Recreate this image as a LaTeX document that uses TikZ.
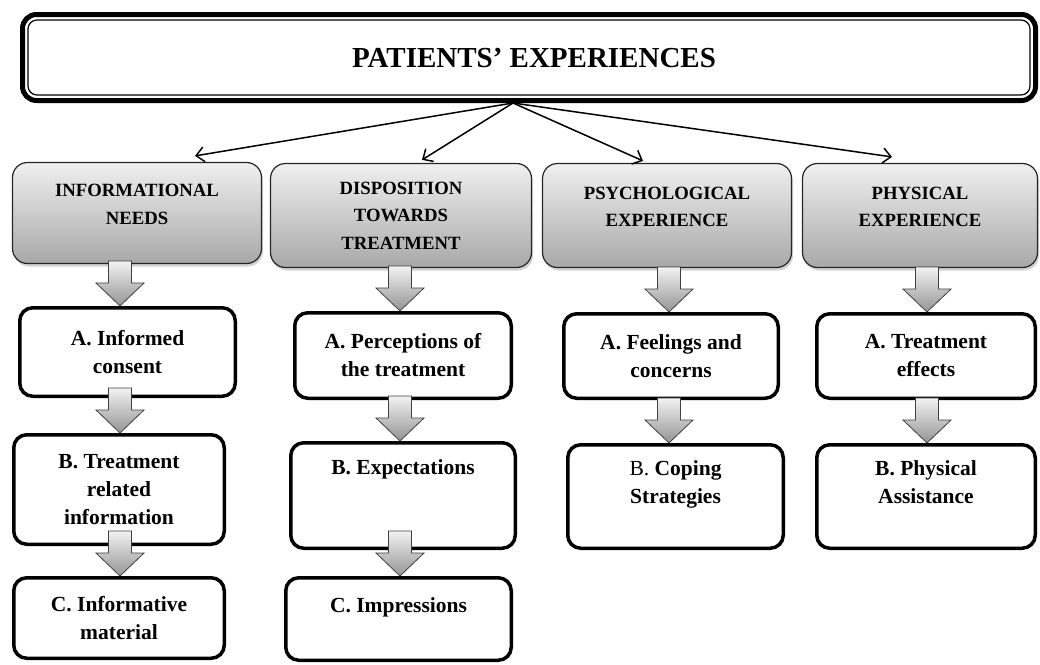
\documentclass[tikz,border=0pt]{standalone}
\usepackage{fontspec}
\setmainfont{Liberation Serif}
\usetikzlibrary{arrows.meta,calc,shadows}

\tikzset{
  catbox/.style={draw=black!85, line width=1.2pt, rounded corners=15pt,
    top color=black!6, bottom color=black!34,
    drop shadow={shadow xshift=1.5pt, shadow yshift=-3pt, opacity=0.35},
    align=center, font=\fontsize{18.7}{27.5}\selectfont\bfseries},
  subbox/.style={draw, line width=3.5pt, rounded corners=13pt, fill=white,
    align=center, font=\fontsize{21.5}{28}\selectfont\bfseries},
  thinarrow/.style={-{Straight Barb[length=8pt,width=15pt]}, line width=1.5pt},
  fatarrow/.style={draw=black!75, line width=0.8pt, top color=black!5, bottom color=black!42},
}

% block arrow ending on the top of a box: #1 = x, #2 = target node
\newcommand{\fatarrow}[2]{%
  \draw[fatarrow] let \p1=(#2.north) in
    (#1pt-11.5pt,\y1+45pt) -- (#1pt+11.5pt,\y1+45pt) -- (#1pt+11.5pt,\y1+23pt)
    -- (#1pt+24pt,\y1+23pt) -- (#1pt,\y1) -- (#1pt-24pt,\y1+23pt)
    -- (#1pt-11.5pt,\y1+23pt) -- cycle;}

\begin{document}
\begin{tikzpicture}[x=1pt,y=-1pt]
    \useasboundingbox (0,0) rectangle (1040,664);

    % heading
    \node[draw, line width=5pt, rounded corners=14pt, minimum width=1013pt, minimum height=86pt,
          font=\fontsize{29}{30}\selectfont\bfseries] (title) at (529,57.5) {\hspace*{10pt}PATIENTS' EXPERIENCES};
    \draw[line width=1.2pt, rounded corners=9pt] ([shift={(8,8)}]title.north west) rectangle ([shift={(-8,-8)}]title.south east);

    % themes
    \node[catbox, minimum width=249pt, minimum height=101pt] (cat1) at (137,213) {INFORMATIONAL\\NEEDS\\[-10pt]\mbox{}};
    \node[catbox, minimum width=261pt, minimum height=104pt] (cat2) at (401,215.5) {DISPOSITION\\TOWARDS\\TREATMENT};
    \node[catbox, minimum width=249pt, minimum height=104pt] (cat3) at (667,215.5) {PSYCHOLOGICAL\\EXPERIENCE\\[-10pt]\mbox{}};
    \node[catbox, minimum width=235pt, minimum height=104pt] (cat4) at (920,215.5) {PHYSICAL\\EXPERIENCE\\[-10pt]\mbox{}};

    % sub-themes
    \node[subbox, minimum width=215.5pt, minimum height=88.5pt] (a1) at (127.5,352) {A. Informed\\consent};
    \node[subbox, minimum width=210.5pt, minimum height=109.5pt] (b1) at (119,489.5) {B. Treatment\\related\\information};
    \node[subbox, minimum width=210.5pt, minimum height=80.5pt] (c1) at (119,618) {C. Informative\\material};

    \node[subbox, minimum width=216.5pt, minimum height=85.5pt] (a2) at (403,355.5) {A. Perceptions of\\the treatment};
    \node[subbox, minimum width=224.5pt, minimum height=105.5pt] (b2) at (403,495.5) {B. Expectations\\\mbox{}\\\mbox{}};
    \node[subbox, minimum width=225.5pt, minimum height=82.5pt] (c2) at (398.5,619) {C. Impressions\\\mbox{}};

    \node[subbox, minimum width=214.5pt, minimum height=84.5pt] (a3) at (671,356) {A. Feelings and\\concerns};
    \node[subbox, minimum width=215.5pt, minimum height=103.5pt] (b3) at (675.5,496.5) {\textmd{B.} Coping\\Strategies\\\mbox{}};

    \node[subbox, minimum width=218.5pt, minimum height=84.5pt] (a4) at (926,356) {A. Treatment\\effects};
    \node[subbox, minimum width=218.5pt, minimum height=103.5pt] (b4) at (926,496.5) {B. Physical\\Assistance\\\mbox{}};

    % heading to themes
    \coordinate (hub) at ([xshift=-16pt]title.south);
    \draw[thinarrow] (hub) -- ([xshift=58pt,yshift=6pt]cat1.north);
    \draw[thinarrow] (hub) -- ([xshift=21pt,yshift=3pt]cat2.north);
    \draw[thinarrow] (hub) -- ([xshift=-24pt,yshift=2pt]cat3.north);
    \draw[thinarrow] (hub) -- ([xshift=-28pt,yshift=6pt]cat4.north);

    % block arrows
    \fatarrow{120}{a1}
    \fatarrow{120}{b1}
    \fatarrow{120}{c1}
    \fatarrow{400}{a2}
    \fatarrow{400}{b2}
    \fatarrow{400}{c2}
    \fatarrow{669}{a3}
    \fatarrow{669}{b3}
    \fatarrow{927}{a4}
    \fatarrow{927}{b4}
\end{tikzpicture}
\end{document}
